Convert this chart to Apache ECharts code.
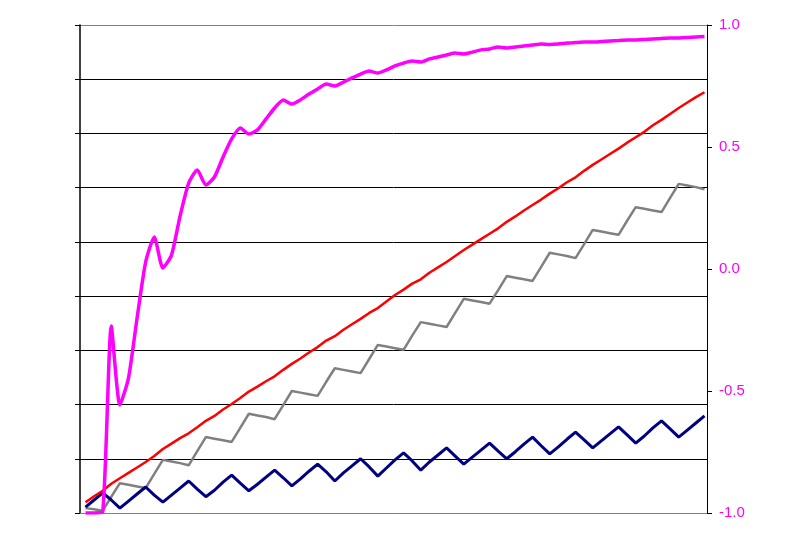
<!DOCTYPE html>
<html>
<head>
<meta charset="utf-8">
<script src="https://cdn.jsdelivr.net/npm/echarts@6/dist/echarts.min.js"></script>
<style>
html,body{margin:0;padding:0;background:#fff;}
#chart{width:791px;height:533px;}
</style>
</head>
<body>
<div id="chart"></div>
<script>
// step index (x) for each sample
const steps = Array.from({length: 73}, (_, i) => i);

// left-axis series (unlabelled axis, 0..9)
const navy = [0.11,0.24,0.37,0.24,0.09,0.22,0.35,0.48,0.33,0.20,
  0.33,0.46,0.59,0.44,0.30,0.42,0.57,0.70,0.55,0.41,
  0.53,0.66,0.79,0.65,0.50,0.63,0.77,0.90,0.76,0.59,
  0.74,0.87,1.00,0.85,0.68,0.83,0.98,1.11,0.96,0.79,
  0.94,1.07,1.20,1.05,0.90,1.03,1.16,1.29,1.14,1.00,
  1.13,1.27,1.40,1.24,1.09,1.22,1.36,1.49,1.35,1.20,
  1.33,1.46,1.59,1.44,1.29,1.42,1.57,1.70,1.55,1.40,
  1.53,1.66,1.79];

const gray = [0.09,0.07,0.04,0.30,0.55,0.52,0.49,0.46,0.72,0.98,
  0.95,0.92,0.88,1.14,1.40,1.37,1.34,1.31,1.57,1.83,
  1.80,1.77,1.73,1.99,2.25,2.22,2.19,2.16,2.42,2.67,
  2.64,2.61,2.58,2.84,3.10,3.07,3.04,3.01,3.27,3.52,
  3.49,3.46,3.43,3.69,3.95,3.92,3.89,3.86,4.11,4.37,
  4.34,4.31,4.28,4.54,4.80,4.77,4.74,4.70,4.96,5.22,
  5.19,5.16,5.13,5.39,5.64,5.61,5.58,5.55,5.81,6.07,
  6.04,6.01,5.97];

const red = [0.20,0.31,0.41,0.54,0.64,0.74,0.84,0.94,1.05,1.18,
  1.28,1.38,1.47,1.58,1.70,1.79,1.91,2.01,2.12,2.24,
  2.33,2.43,2.52,2.64,2.75,2.85,2.96,3.06,3.18,3.26,
  3.38,3.48,3.58,3.69,3.78,3.90,4.02,4.12,4.23,4.31,
  4.43,4.53,4.63,4.74,4.85,4.95,5.05,5.15,5.25,5.37,
  5.47,5.58,5.68,5.78,5.89,5.99,6.10,6.19,6.31,6.42,
  6.52,6.62,6.72,6.83,6.93,7.03,7.15,7.25,7.36,7.47,
  7.57,7.67,7.76];

// right-axis series (-1..1)
const magenta = [-1.000,-1.000,-0.995,-0.234,-0.557,-0.447,-0.201,0.029,0.131,0.004,
  0.057,0.217,0.352,0.406,0.344,0.377,0.459,0.533,0.578,0.553,
  0.570,0.615,0.660,0.693,0.676,0.693,0.717,0.738,0.758,0.750,
  0.766,0.783,0.799,0.811,0.803,0.816,0.832,0.844,0.852,0.848,
  0.861,0.869,0.877,0.885,0.881,0.889,0.898,0.902,0.910,0.906,
  0.910,0.914,0.918,0.922,0.920,0.922,0.926,0.928,0.930,0.930,
  0.932,0.934,0.936,0.939,0.939,0.941,0.943,0.945,0.947,0.947,
  0.949,0.951,0.953];

const rightTicks = ['-1.0','-0.5','0.0','0.5','1.0'];

function pairs(arr){ return steps.map((s, i) => [s, arr[i]]); }

const chart = echarts.init(document.getElementById('chart'), null, {renderer: 'canvas'});
const gridColors = ['#808080','#000','#000','#000','#000','#000','#000','#000','#000','#808080'];
chart.setOption({
  animation: false,
  backgroundColor: '#ffffff',
  grid: {left: 80, right: 84, top: 25, bottom: 20, containLabel: false},
  xAxis: {
    type: 'value', min: -0.64, max: 72.29,
    axisLine: {show: true, lineStyle: {color: '#808080', width: 1}},
    axisTick: {show: false}, axisLabel: {show: false}, splitLine: {show: false}
  },
  yAxis: [
    {
      type: 'value', position: 'left', min: 0, max: 9, interval: 1,
      axisLine: {show: true, onZero: false, lineStyle: {color: '#000', width: 1.5}},
      axisTick: {show: true, inside: false, length: 5, lineStyle: {color: '#000', width: 1}},
      axisLabel: {show: false},
      splitLine: {show: true, lineStyle: {color: gridColors, width: 1}}
    },
    {
      type: 'value', position: 'right', min: -1, max: 1, interval: 0.5,
      axisLine: {show: true, onZero: false, lineStyle: {color: '#000', width: 1}},
      axisTick: {show: true, inside: false, length: 5, lineStyle: {color: '#000', width: 1}},
      axisLabel: {
        show: true, margin: 12, color: '#ff00ff',
        fontFamily: 'Liberation Sans, Arial, sans-serif', fontSize: 15,
        formatter: function(v){ const i = Math.round((v + 1) / 0.5); return rightTicks[i]; }
      },
      splitLine: {show: false}
    }
  ],
  series: [
    {name: 'gray', type: 'line', yAxisIndex: 0, data: pairs(gray), showSymbol: false,
     lineStyle: {color: '#808080', width: 2.5}, z: 2},
    {name: 'navy', type: 'line', yAxisIndex: 0, data: pairs(navy), showSymbol: false,
     lineStyle: {color: '#000080', width: 3}, z: 3},
    {name: 'red', type: 'line', yAxisIndex: 0, data: pairs(red), showSymbol: false,
     lineStyle: {color: '#ff0000', width: 2.5}, z: 4},
    {name: 'magenta', type: 'line', yAxisIndex: 1, data: pairs(magenta), showSymbol: false,
     smooth: 0.2,
     lineStyle: {color: '#ff00ff', width: 3.5}, z: 5}
  ]
});
</script>
</body>
</html>
